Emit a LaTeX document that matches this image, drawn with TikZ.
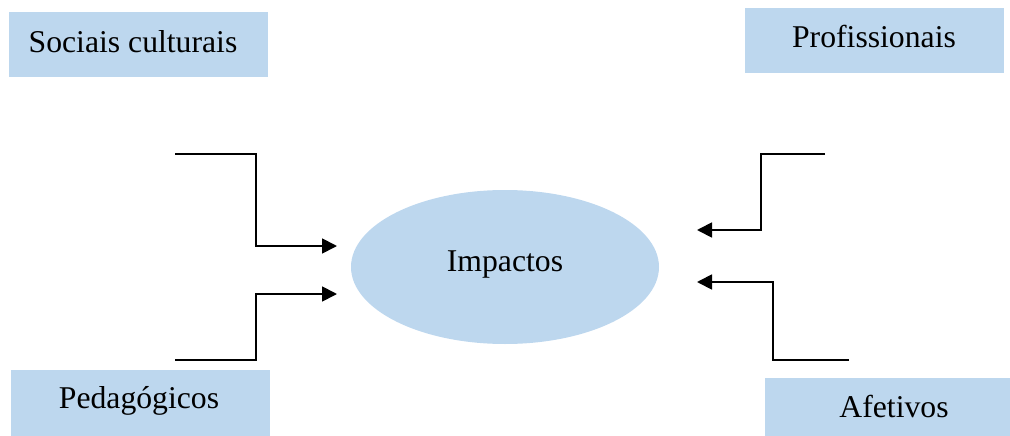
\documentclass[tikz,border=0pt]{standalone}
\usepackage{fontspec}
\setmainfont{Liberation Serif}
\usetikzlibrary{arrows.meta,shapes.geometric}
\definecolor{boxblue}{HTML}{BDD7EE}
\tikzset{
  box/.style={fill=boxblue, draw=none, inner sep=0pt, anchor=north west},
  lbl/.style={font=\fontsize{31.7}{38}\selectfont, anchor=base, inner sep=0pt},
  conn/.style={line width=1.8pt, -{Triangle[length=15pt,width=15pt]}}
}
\begin{document}
\begin{tikzpicture}[x=1pt,y=-1pt]
\useasboundingbox (0,0) rectangle (1010,436);
% boxes
\node[box, minimum width=259pt, minimum height=65pt] (bsoc) at (9,12) {};
\node[box, minimum width=259pt, minimum height=66pt] (bped) at (11,370) {};
\node[box, minimum width=259pt, minimum height=65pt] (bpro) at (745,8) {};
\node[box, minimum width=245pt, minimum height=58pt] (baf) at (765,378) {};
% labels
\node[lbl] (tsoc) at (133,53) {Sociais culturais};
\node[lbl] (tped) at (139,408) {Pedagógicos};
\node[lbl] (tpro) at (874,48) {Profissionais};
\node[lbl] (taf) at (894,417) {Afetivos};
% ellipse
\node[ellipse, fill=boxblue, draw=none, minimum width=308pt, minimum height=154pt, inner sep=0pt] (imp) at (505,267) {};
\node[lbl] (timp) at (505,271) {Impactos};
% connector ends
\coordinate (s1) at (175,154);
\coordinate (e1) at (337,246);
\coordinate (s2) at (175,360);
\coordinate (e2) at (337,294);
\coordinate (s3) at (825,154);
\coordinate (e3) at (697,230);
\coordinate (s4) at (849,360);
\coordinate (e4) at (697,282);
\draw[conn] (s1) -| (256,246) -- (e1);
\draw[conn] (s2) -| (256,294) -- (e2);
\draw[conn] (s3) -| (761,230) -- (e3);
\draw[conn] (s4) -| (773,282) -- (e4);
\end{tikzpicture}
\end{document}
